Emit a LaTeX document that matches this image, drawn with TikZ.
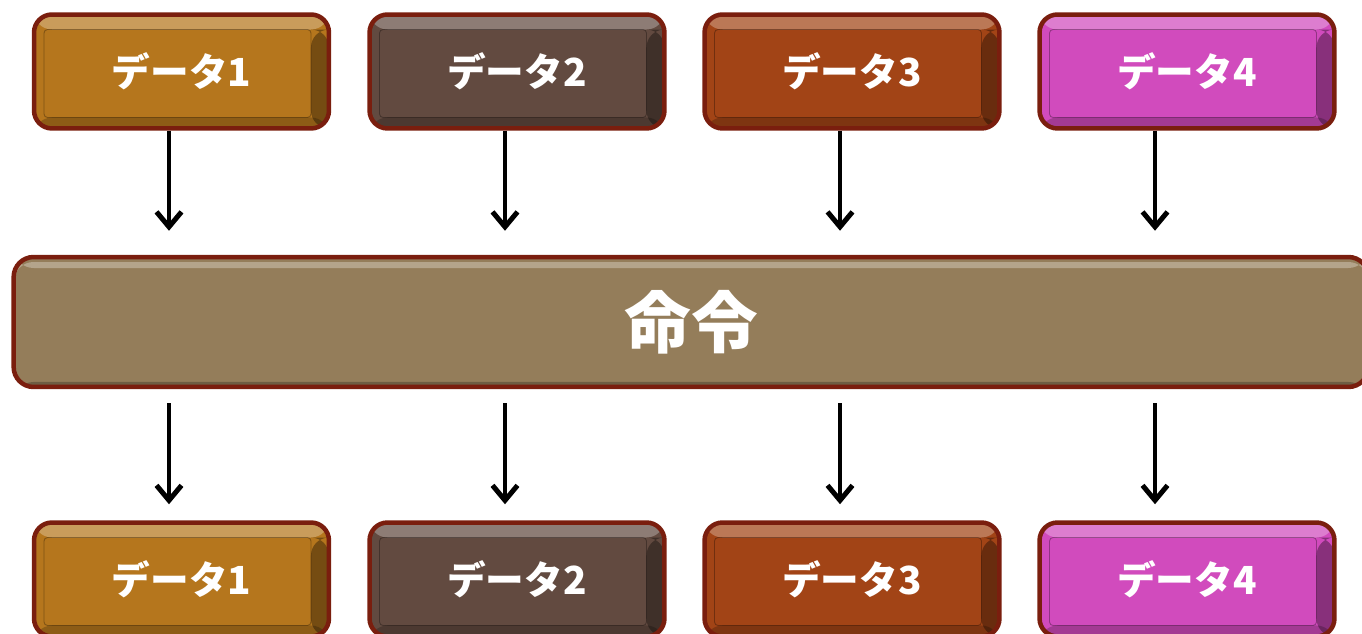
\documentclass[tikz,border=0pt]{standalone}
\usepackage{fontspec}
\setmainfont{Noto Sans CJK JP}
\usepackage{tikz}
\usetikzlibrary{arrows.meta}

\definecolor{rim}{HTML}{7A1E0E}
\definecolor{dataA}{HTML}{B5761D}
\definecolor{dataB}{HTML}{624A40}
\definecolor{dataC}{HTML}{A24416}
\definecolor{dataD}{HTML}{D14BBD}
\definecolor{cmdfill}{HTML}{947D5A}

\tikzset{
  bevel/.style={draw=rim, line width=0.09cm, text=white,
    font=\bfseries\fontsize{22pt}{22pt}\selectfont,
    path picture={
      \fill[white,opacity=.28] (path picture bounding box.north west) rectangle ([yshift=-0.3cm]path picture bounding box.north east);
      \fill[black,opacity=.35] ([xshift=-0.36cm,yshift=-0.3cm]path picture bounding box.north east) rectangle (path picture bounding box.south east);
      \fill[black,opacity=.22] (path picture bounding box.south west) rectangle ([yshift=0.22cm]path picture bounding box.south east);
      \draw[black,opacity=.3,line width=0.5pt,rounded corners=2pt] ([xshift=0.2cm,yshift=-0.3cm]path picture bounding box.north west) rectangle ([xshift=-0.36cm,yshift=0.22cm]path picture bounding box.south east);
    }},
  databox/.style={bevel, fill=#1, rounded corners=0.36cm,
    minimum width=5.9cm, minimum height=2.28cm},
  cmdbox/.style={draw=rim, line width=0.09cm, fill=cmdfill, text=white,
    rounded corners=0.4cm, minimum width=27.1cm, minimum height=2.6cm,
    font=\bfseries\fontsize{38pt}{38pt}\selectfont,
    path picture={
      \fill[white,opacity=.3] ([yshift=-0.1cm]path picture bounding box.north west) rectangle ([yshift=-0.22cm]path picture bounding box.north east);
      \fill[black,opacity=.25] (path picture bounding box.south west) rectangle ([yshift=0.1cm]path picture bounding box.south east);
    }},
  arr/.style={line width=0.08cm, -{Straight Barb[length=0.3cm,width=0.5cm,line width=0.1cm]}}
}

\begin{document}
\begin{tikzpicture}[x=0.02cm, y=-0.02cm]
    \useasboundingbox (0,0) rectangle (1362,634);
    % top row
    \node[databox=dataA] (in1) at (181.5,71.5) {データ1};
    \node[databox=dataB] (in2) at (517,71.5) {データ2};
    \node[databox=dataC] (in3) at (852,71.5) {データ3};
    \node[databox=dataD] (in4) at (1187,71.5) {データ4};
    % the one instruction
    \node[cmdbox] (cmd) at (691,322) {命令};
    % bottom row
    \node[databox=dataA] (out1) at (181.5,579.5) {データ1};
    \node[databox=dataB] (out2) at (517,579.5) {データ2};
    \node[databox=dataC] (out3) at (852,579.5) {データ3};
    \node[databox=dataD] (out4) at (1187,579.5) {データ4};
    % arrows
    \coordinate (p1) at ([xshift=-0.25cm]in1.south);
    \coordinate (p2) at ([xshift=-0.24cm]in2.south);
    \coordinate (p3) at ([xshift=-0.24cm]in3.south);
    \coordinate (p4) at ([xshift=-0.64cm]in4.south);
    \draw[arr, shorten >=0.48cm] (p1) -- (p1 |- cmd.north);
    \draw[arr, shorten >=0.48cm] (p2) -- (p2 |- cmd.north);
    \draw[arr, shorten >=0.48cm] (p3) -- (p3 |- cmd.north);
    \draw[arr, shorten >=0.48cm] (p4) -- (p4 |- cmd.north);
    \draw[arr, shorten <=0.28cm, shorten >=0.32cm] (p1 |- cmd.south) -- (p1 |- out1.north);
    \draw[arr, shorten <=0.28cm, shorten >=0.32cm] (p2 |- cmd.south) -- (p2 |- out2.north);
    \draw[arr, shorten <=0.28cm, shorten >=0.32cm] (p3 |- cmd.south) -- (p3 |- out3.north);
    \draw[arr, shorten <=0.28cm, shorten >=0.32cm] (p4 |- cmd.south) -- (p4 |- out4.north);
\end{tikzpicture}
\end{document}
